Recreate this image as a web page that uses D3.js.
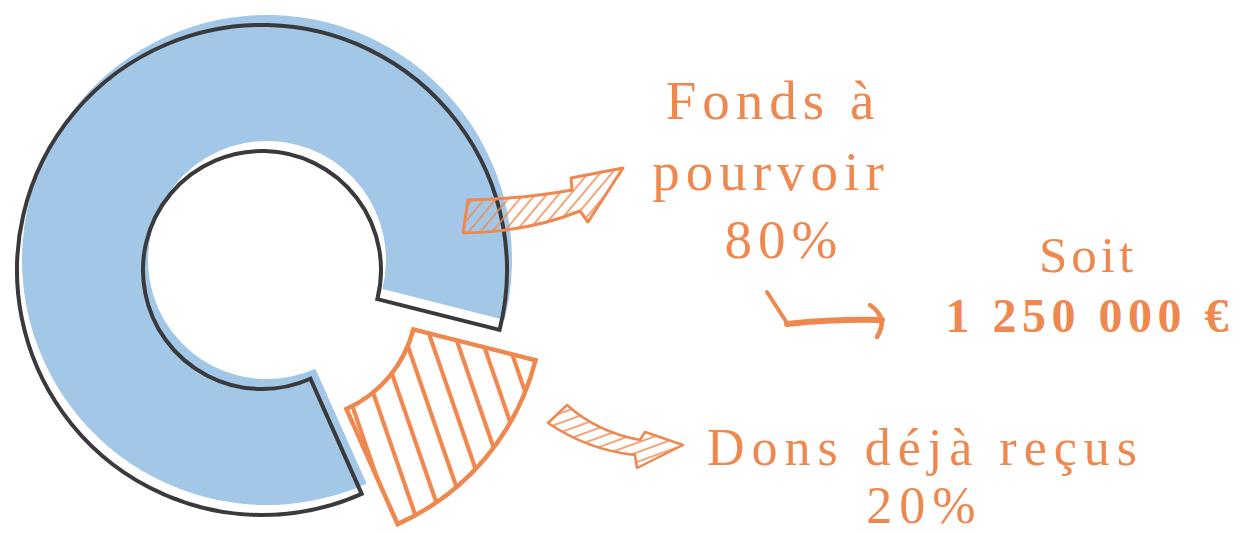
<!DOCTYPE html>
<html>
<head>
<meta charset="utf-8">
<script src="https://cdn.jsdelivr.net/npm/d3@7"></script>
<style>
  body { margin: 0; background: #fff; }
  text { font-family: "Liberation Serif", "DejaVu Serif", serif; fill: #ef884e; }
</style>
</head>
<body>
<svg id="chart" width="1242" height="534"></svg>
<script>
// slices, in drawing order (the picture draws them a bit off the printed percentages)
const sliceNames = ["Fonds à pourvoir", "Dons déjà reçus"];
const sliceShares = [85.6, 14.4];
const sliceColors = ["#a3c8e7", "#ef884e"];

// label texts
const fondsLines = ["Fonds à", "pourvoir", "80%"];
const donsLines = ["Dons déjà reçus", "20%"];
const totalLines = ["Soit", "1 250 000 €"];

const orange = "#ef884e";
const dark = "#3a3a3c";

const svg = d3.select("#chart");
const defs = svg.append("defs");

// hatch for the exploded slice
defs.append("pattern")
    .attr("id", "hatchBig")
    .attr("patternUnits", "userSpaceOnUse")
    .attr("width", 24).attr("height", 24)
    .attr("patternTransform", "rotate(-19)")
  .append("line")
    .attr("x1", 17).attr("y1", -2).attr("x2", 17).attr("y2", 26)
    .attr("stroke", orange).attr("stroke-width", 4.2);

// thin hatch for the arrows
function thinHatch(id, angle) {
    defs.append("pattern")
        .attr("id", id)
        .attr("patternUnits", "userSpaceOnUse")
        .attr("width", 9).attr("height", 9)
        .attr("patternTransform", `rotate(${angle})`)
      .append("line")
        .attr("x1", 4).attr("y1", -1).attr("x2", 4).attr("y2", 10)
        .attr("stroke", orange).attr("stroke-width", 1.5);
}
thinHatch("hatchA", 40);
thinHatch("hatchB", 70);

// pie layout
const deg = Math.PI / 180;
const pie = d3.pie().sort(null).value(d => d.share)
    .startAngle(156 * deg).endAngle(516 * deg);
const slices = pie(sliceNames.map((n, i) => ({ name: n, share: sliceShares[i], color: sliceColors[i] })));

const arc = d3.arc().innerRadius(119).outerRadius(245);

const cx = 262, cy = 270;
const main = slices[0], part = slices[1];

// blue fill, slightly offset from its outline
svg.append("path")
    .attr("transform", `translate(${cx + 5},${cy - 10})`)
    .attr("d", arc(main))
    .attr("fill", main.data.color);

svg.append("path")
    .attr("transform", `translate(${cx},${cy})`)
    .attr("d", arc(main))
    .attr("fill", "none")
    .attr("stroke", dark)
    .attr("stroke-width", 4);

// exploded orange slice
const mid = (part.startAngle + part.endAngle) / 2;
const explode = 47;
svg.append("path")
    .attr("transform", `translate(${cx + explode * Math.sin(mid)},${cy - explode * Math.cos(mid)})`)
    .attr("d", arc(part))
    .attr("fill", "url(#hatchBig)")
    .attr("stroke", part.data.color)
    .attr("stroke-width", 4.5)
    .attr("stroke-linejoin", "miter");

// hand drawn arrows
svg.append("path")
    .attr("d", "M468,200 Q522,199 572,190 L571,178 L623,168 L588,222 L580,211 Q528,232 463,233 Z")
    .attr("fill", "url(#hatchA)")
    .attr("stroke", orange).attr("stroke-width", 3).attr("stroke-linejoin", "round");

svg.append("path")
    .attr("d", "M567,405 Q597,432 640,440 L645,432 L683,445 L637,468 L635,455 Q588,450 548,423 Z")
    .attr("fill", "url(#hatchB)")
    .attr("stroke", orange).attr("stroke-width", 2.5).attr("stroke-linejoin", "round");

svg.append("path")
    .attr("d", "M767,292 L787,323")
    .attr("fill", "none").attr("stroke", orange).attr("stroke-width", 4).attr("stroke-linecap", "round");
svg.append("path")
    .attr("d", "M787,324 Q835,319 882,320")
    .attr("fill", "none").attr("stroke", orange).attr("stroke-width", 6).attr("stroke-linecap", "round");
svg.append("path")
    .attr("d", "M870,305 Q889,318 877,337")
    .attr("fill", "none").attr("stroke", orange).attr("stroke-width", 4.5).attr("stroke-linecap", "round");

// labels
function block(lines, xs, ys, size, spacing, weight) {
    svg.append("g").selectAll("text")
        .data(lines)
        .join("text")
        .attr("x", (d, i) => xs[i] + spacing / 2)
        .attr("y", (d, i) => ys[i])
        .attr("text-anchor", "middle")
        .attr("font-size", size)
        .attr("font-weight", weight)
        .attr("letter-spacing", spacing)
        .text(d => d);
}

block(fondsLines, [770, 768, 781], [119, 190, 258], 55, 6, "normal");
block(donsLines, [922, 921], [465, 523], 52, 7, "normal");
block(totalLines.slice(0, 1), [1086], [272], 51, 4, "normal");
block(totalLines.slice(1), [1087], [332], 48, 5.5, "bold");
</script>
</body>
</html>
